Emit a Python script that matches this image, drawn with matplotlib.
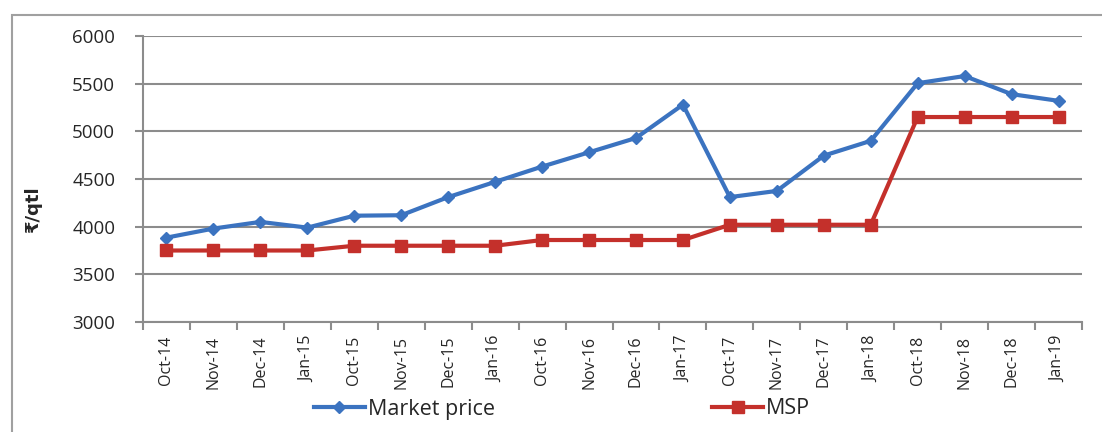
import matplotlib
matplotlib.use("Agg")
import matplotlib.pyplot as plt
import numpy as np
from matplotlib.patches import Rectangle
from matplotlib.lines import Line2D

months = ["Oct-14", "Nov-14", "Dec-14", "Jan-15", "Oct-15", "Nov-15", "Dec-15",
          "Jan-16", "Oct-16", "Nov-16", "Dec-16", "Jan-17", "Oct-17", "Nov-17",
          "Dec-17", "Jan-18", "Oct-18", "Nov-18", "Dec-18", "Jan-19"]
market_price = [3885, 3980, 4050, 3990, 4115, 4120, 4310, 4470, 4630, 4780,
                4930, 5280, 4310, 4375, 4745, 4900, 5505, 5580, 5390, 5320]
msp = [3750, 3750, 3750, 3750, 3800, 3800, 3800, 3800, 3860, 3860,
       3860, 3860, 4020, 4020, 4020, 4020, 5150, 5150, 5150, 5150]
y_ticks = [3000, 3500, 4000, 4500, 5000, 5500, 6000]

plt.rcParams["font.family"] = ["Open Sans", "DejaVu Sans"]

blue = "#3B73C0"
red = "#C4302B"
grid = "#8C8C8C"
text_col = "#262626"

fig = plt.figure(figsize=(11.02, 4.32), dpi=100)
fig.patch.set_facecolor("white")

# outer chart frame
fig.add_artist(Rectangle((12 / 1102, -0.05), 1.2, 1 - 15 / 432 + 0.05,
                         transform=fig.transFigure, fill=False,
                         edgecolor="#A0A0A0", linewidth=1.5))

ax = fig.add_axes([143 / 1102, 1 - 322 / 432, (1082 - 143) / 1102, (322 - 36) / 432])
x = np.arange(len(months))

ax.plot(x, market_price, color=blue, linewidth=3, marker="D", markersize=6,
        markerfacecolor=blue, markeredgecolor=blue, zorder=3)
ax.plot(x, msp, color=red, linewidth=3, marker="s", markersize=9,
        markerfacecolor=red, markeredgecolor=red, zorder=3)

ax.set_xlim(-0.5, len(months) - 0.5)
ax.set_ylim(3000, 6000)
ax.set_yticks(y_ticks)
ax.set_yticklabels([str(v) for v in y_ticks], fontsize=13.5, color=text_col)
ax.yaxis.grid(True, color=grid, linewidth=1.5)
ax.set_axisbelow(True)

ax.set_xticks(x)
ax.set_xticklabels(months, rotation=90, fontsize=11.5, color=text_col)
ax.tick_params(axis="x", which="major", length=0, pad=10)
ax.set_xticks(np.arange(-0.5, len(months), 1.0), minor=True)
ax.tick_params(axis="x", which="minor", length=6, width=1.5, color=grid, direction="out")
ax.tick_params(axis="y", length=6, width=1.5, color=grid, pad=14)

for side in ["top", "right"]:
    ax.spines[side].set_visible(False)
for side in ["left", "bottom"]:
    ax.spines[side].set_color(grid)
    ax.spines[side].set_linewidth(1.5)

fig.text(33 / 1102, 1 - 210 / 432, "₹/qtl", rotation=90, fontsize=13,
         fontweight="bold", color=text_col, ha="center", va="center",
         family=["DejaVu Sans"])

handles = [
    Line2D([0], [0], color=blue, linewidth=3, marker="D", markersize=6),
    Line2D([0], [0], color=red, linewidth=3, marker="s", markersize=9),
]
fig.legend(handles, ["Market price", "MSP"], loc="center left",
           bbox_to_anchor=(314 / 1102, 1 - 409 / 432), ncol=2, frameon=False,
           fontsize=15.5, handlelength=2.35, handletextpad=0.15,
           columnspacing=10.1, labelcolor=text_col, borderpad=0, borderaxespad=0)

fig.savefig("out.png", dpi=100, facecolor="white")
